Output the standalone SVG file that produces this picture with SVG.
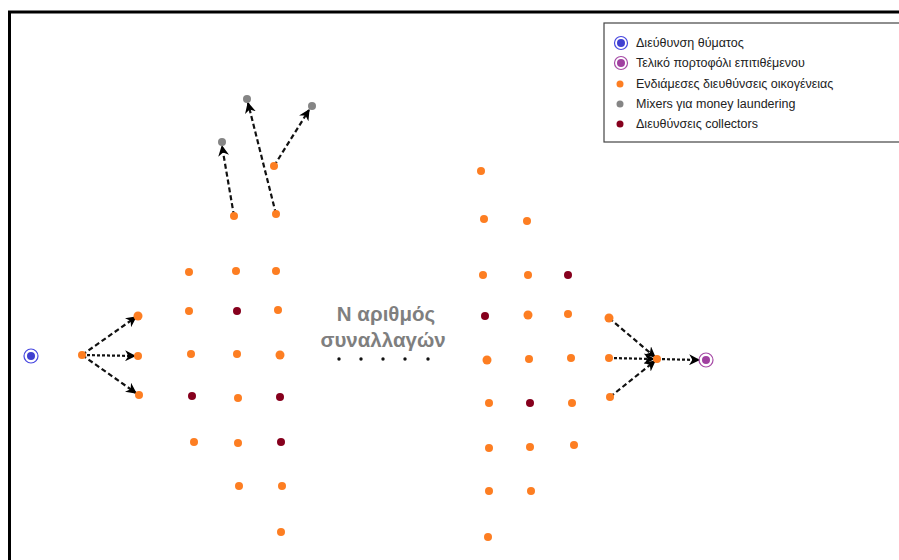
<svg xmlns="http://www.w3.org/2000/svg" width="899" height="560" viewBox="0 0 899 560">
<defs>
<marker id="ah" viewBox="0 0 10 10" refX="9" refY="5" markerWidth="11" markerHeight="11" markerUnits="userSpaceOnUse" orient="auto"><path d="M0,0 L10,5 L0,10 L3,5 Z" fill="#000"/></marker>
</defs>
<style>
.o{fill:#fd7e22}
.r{fill:#86001d}
.g{fill:#858585}
.dash{stroke:#111;stroke-width:2.2;stroke-dasharray:5,3;fill:none;marker-end:url(#ah)}
.dot{stroke:#111;stroke-width:2.2;stroke-dasharray:3,2;fill:none;marker-end:url(#ah)}
.lg{font-family:"Liberation Sans",Arial,sans-serif;font-size:12.5px;fill:#222}
.big{font-family:"Liberation Sans",Arial,sans-serif;font-size:20.5px;font-weight:bold;fill:#7f7f7f;text-anchor:middle}
</style>
<rect width="899" height="560" fill="#fff"/>
<path d="M9.5,560 V12 H899" fill="none" stroke="#000" stroke-width="3"/>
<g id="legend">
<rect x="604" y="23" width="300" height="119" fill="#fff" stroke="#444" stroke-width="1.2"/>
<circle cx="621" cy="43" r="6.5" fill="none" stroke="#4646e0" stroke-width="1.2"/><circle cx="621" cy="43" r="4" fill="#4040d0"/>
<text class="lg" x="636" y="47">Διεύθυνση θύματος</text>
<circle cx="621" cy="63" r="6.5" fill="none" stroke="#a64aa6" stroke-width="1.2"/><circle cx="621" cy="63" r="4" fill="#a040a0"/>
<text class="lg" x="636" y="67">Τελικό πορτοφόλι επιτιθέμενου</text>
<circle class="o" cx="620" cy="84" r="3.5"/>
<text class="lg" x="636" y="88">Ενδιάμεσες διευθύνσεις οικογένειας</text>
<circle class="g" cx="620" cy="104" r="3.5"/>
<text class="lg" x="636" y="108">Mixers για money laundering</text>
<circle class="r" cx="620" cy="124" r="3.5"/>
<text class="lg" x="636" y="128">Διευθύνσεις collectors</text>
</g>
<g id="connectors">
<line class="dash" x1="82" y1="355" x2="136" y2="317"/>
<line class="dot" x1="82" y1="355" x2="135" y2="356"/>
<line class="dash" x1="82" y1="355" x2="136" y2="393"/>
<line class="dash" x1="234" y1="216" x2="222" y2="146"/>
<line class="dash" x1="276" y1="214" x2="248" y2="103"/>
<line class="dash" x1="274" y1="166" x2="309" y2="110"/>
<line class="dash" x1="609" y1="318" x2="655" y2="357"/>
<line class="dot" x1="609" y1="358" x2="654" y2="359"/>
<line class="dash" x1="610" y1="397" x2="655" y2="361"/>
<line class="dot" x1="657" y1="359" x2="699" y2="360"/>
</g>
<g id="victim"><circle cx="31" cy="356" r="7" fill="none" stroke="#4646e0" stroke-width="1.2"/><circle cx="31" cy="356" r="4" fill="#4040d0"/></g>
<g id="attacker"><circle cx="706" cy="360" r="7" fill="none" stroke="#a64aa6" stroke-width="1.2"/><circle cx="706" cy="360" r="4" fill="#a040a0"/></g>
<g id="mixers">
<circle class="g" cx="222" cy="142" r="4"/><circle class="g" cx="247" cy="99" r="4"/><circle class="g" cx="312" cy="106" r="4"/>
</g>
<g id="left-nodes">
<circle class="o" cx="82" cy="355" r="4"/>
<circle class="o" cx="138" cy="316" r="4.5"/><circle class="o" cx="138" cy="356" r="4"/><circle class="o" cx="139" cy="395" r="4"/>
<circle class="o" cx="274" cy="166" r="4"/>
<circle class="o" cx="234" cy="216" r="4"/><circle class="o" cx="276" cy="214" r="4"/>
<circle class="o" cx="189" cy="272" r="4"/><circle class="o" cx="236" cy="271" r="4"/><circle class="o" cx="276" cy="271" r="4"/>
<circle class="o" cx="189" cy="311" r="4"/><circle class="r" cx="237" cy="311" r="4"/><circle class="o" cx="278" cy="310" r="4"/>
<circle class="o" cx="191" cy="354" r="4"/><circle class="o" cx="237" cy="354" r="4"/><circle class="o" cx="280" cy="355" r="4.5"/>
<circle class="r" cx="192" cy="396" r="4"/><circle class="o" cx="238" cy="398" r="4"/><circle class="r" cx="280" cy="397" r="4"/>
<circle class="o" cx="194" cy="442" r="4"/><circle class="o" cx="238" cy="443" r="4"/><circle class="r" cx="281" cy="442" r="4"/>
<circle class="o" cx="239" cy="486" r="4"/><circle class="o" cx="282" cy="486" r="4"/>
<circle class="o" cx="281" cy="532" r="4"/>
</g>
<g id="right-nodes">
<circle class="o" cx="481" cy="171" r="4"/>
<circle class="o" cx="484" cy="219" r="4"/><circle class="o" cx="527" cy="221" r="4"/>
<circle class="o" cx="483" cy="275" r="4"/><circle class="o" cx="528" cy="275" r="4"/><circle class="r" cx="568" cy="275" r="4"/>
<circle class="r" cx="485" cy="316" r="4"/><circle class="o" cx="528" cy="315" r="4.5"/><circle class="o" cx="568" cy="314" r="4"/>
<circle class="o" cx="487" cy="360" r="4.5"/><circle class="o" cx="529" cy="359" r="4"/><circle class="o" cx="571" cy="358" r="4"/>
<circle class="o" cx="489" cy="403" r="4"/><circle class="r" cx="530" cy="403" r="4"/><circle class="o" cx="572" cy="403" r="4"/>
<circle class="o" cx="489" cy="448" r="4"/><circle class="o" cx="530" cy="447" r="4"/><circle class="o" cx="574" cy="445" r="4"/>
<circle class="o" cx="489" cy="491" r="4"/><circle class="o" cx="531" cy="491" r="4"/>
<circle class="o" cx="488" cy="537" r="4"/>
<circle class="o" cx="609" cy="318" r="4.5"/><circle class="o" cx="609" cy="358" r="4"/><circle class="o" cx="610" cy="397" r="4"/>
<circle class="o" cx="657" cy="359" r="4"/>
</g>
<g id="label">
<text class="big" x="386" y="321">Ν αριθμός</text>
<text class="big" x="383" y="347">συναλλαγών</text>
<g fill="#111"><circle cx="339" cy="359" r="1.7"/><circle cx="361" cy="359" r="1.7"/><circle cx="383" cy="359" r="1.7"/><circle cx="405" cy="359" r="1.7"/><circle cx="428" cy="359" r="1.7"/></g>
</g>
</svg>
